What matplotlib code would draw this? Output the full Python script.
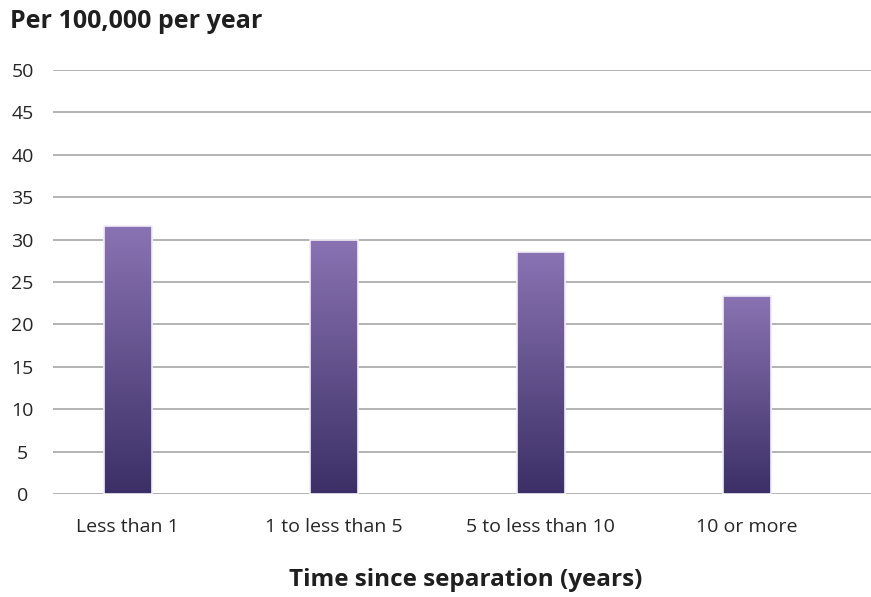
import matplotlib
matplotlib.use("Agg")
import matplotlib.pyplot as plt
import numpy as np
from matplotlib.colors import LinearSegmentedColormap

categories = ["Less than 1", "1 to less than 5", "5 to less than 10", "10 or more"]
rates = [31.6, 30.0, 28.5, 23.3]
yticks = [0, 5, 10, 15, 20, 25, 30, 35, 40, 45, 50]

plt.rcParams['font.family'] = ['Open Sans', 'DejaVu Sans']

W, H = 871, 597
fig = plt.figure(figsize=(W / 100, H / 100), dpi=100)
ax = fig.add_axes([53 / W, (H - 494) / H, (W - 53) / W, (494 - 70) / H])

# purple fade, dark at the base
cmap = LinearSegmentedColormap.from_list("fade", ["#3b2f66", "#8a73b2"])
grad = np.linspace(0, 1, 256).reshape(-1, 1)

x = np.arange(len(categories))
bars = ax.bar(x, rates, width=0.232, facecolor="none", edgecolor="#f2eefa",
              linewidth=1.2, zorder=3)
for b in bars:
    x0, y0 = b.get_x(), b.get_y()
    im = ax.imshow(grad, cmap=cmap, origin="lower", aspect="auto",
                   extent=[x0, x0 + b.get_width(), y0, y0 + b.get_height()],
                   zorder=2)
    im.set_clip_path(b)

ax.set_xlim(-0.361, 3.600)
ax.set_ylim(0, 50)
ax.set_yticks(yticks)
ax.set_xticks(x)
ax.set_xticklabels(categories)
ax.grid(axis="y", color="#b3b3b3", linewidth=1.4, zorder=0)
ax.set_axisbelow(True)
for s in ax.spines.values():
    s.set_visible(False)
ax.tick_params(axis="both", length=0, labelsize=14, colors="#262626")
ax.tick_params(axis="x", pad=17)
ax.tick_params(axis="y", pad=22)
for lbl in ax.get_yticklabels():
    lbl.set_horizontalalignment("center")

fig.text(10 / W, 1 - 22 / H, "Per 100,000 per year", fontsize=18, fontweight="bold",
         color="#1f1f1f", ha="left", va="center")
fig.text(466 / W, 1 - 580 / H, "Time since separation (years)", fontsize=17.5,
         fontweight="bold", color="#1f1f1f", ha="center", va="center")

fig.savefig("out.png", dpi=100)
